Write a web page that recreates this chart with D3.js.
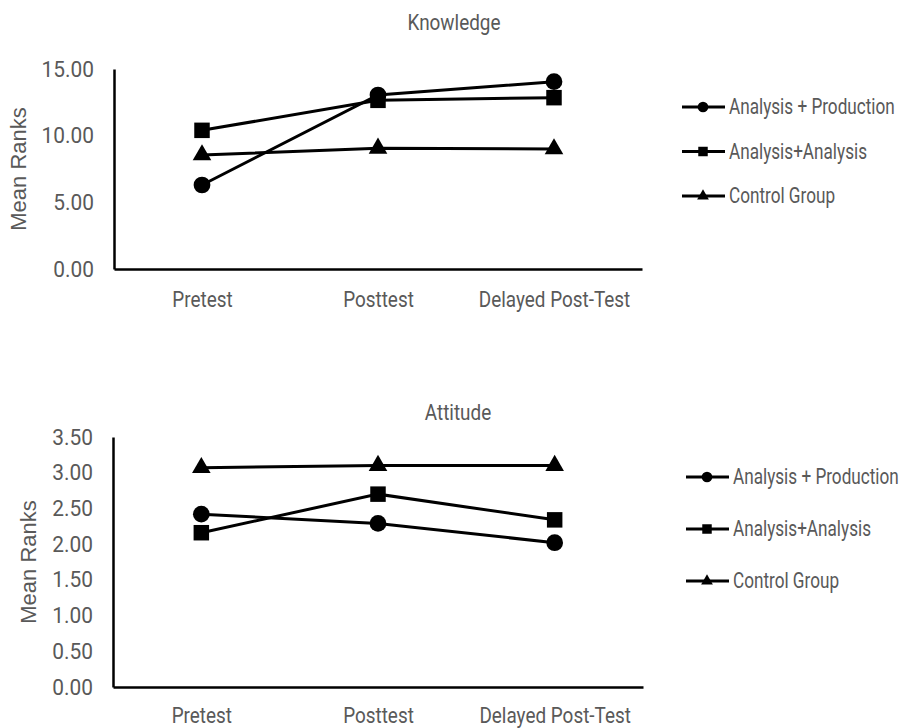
<!DOCTYPE html>
<html><head><meta charset="utf-8">
<script src="https://cdn.jsdelivr.net/npm/d3@7"></script>
<style>body{margin:0;background:#fff;} svg{display:block;}</style>
</head><body>
<svg id="c" width="899" height="728"></svg>
<script>
const categories = ["Pretest", "Posttest", "Delayed Post-Test"];
const seriesNames = ["Analysis + Production", "Analysis+Analysis", "Control Group"];
const symbols = ["circle", "square", "triangle"];
const knowledgeAP = [6.30, 13.05, 14.05];
const knowledgeAA = [10.40, 12.65, 12.85];
const knowledgeCG = [8.55, 9.05, 9.00];
const knowledgeTicks = [0, 5, 10, 15];
const attitudeAP = [2.42, 2.29, 2.02];
const attitudeAA = [2.16, 2.70, 2.34];
const attitudeCG = [3.07, 3.10, 3.10];
const attitudeTicks = [0, 0.5, 1, 1.5, 2, 2.5, 3, 3.5];

const svg = d3.select("#c");
const textColor = "#595959";
const FONT = "Roboto, 'Noto Sans', sans-serif";
// horizontally condense a text about its anchor point using a transform
function condense(sel, k) {
  sel.each(function(){
    const t = d3.select(this);
    const x = +t.attr("x") || 0, y = +t.attr("y") || 0;
    const prev = t.attr("transform") || "";
    t.attr("transform", `${prev} translate(${x},${y}) scale(${k},1) translate(${-x},${-y})`);
  });
}

const symGen = {
  circle: d3.symbol().type(d3.symbolCircle),
  square: d3.symbol().type(d3.symbolSquare),
  triangle: d3.symbol().type(d3.symbolTriangle)
};

function drawChart(cfg) {
  const g = svg.append("g");
  const x = d3.scalePoint().domain(categories).range([cfg.left, cfg.right]).padding(0.5);
  const y = d3.scaleLinear().domain([0, cfg.max]).range([cfg.bottom, cfg.top]);

  // title
  condense(g.append("text").attr("x", cfg.titleX).attr("y", cfg.titleY)
    .attr("text-anchor", "middle").attr("font-family", FONT).attr("font-size", 22)
    .attr("fill", textColor).text(cfg.title), 0.86);

  // y-axis label
  g.append("text").attr("transform", `translate(${cfg.ylabX},${(cfg.top + cfg.bottom) / 2}) rotate(-90)`)
    .attr("text-anchor", "middle").attr("dominant-baseline", "central")
    .attr("font-family", "'Liberation Sans', Arial, sans-serif").attr("font-size", 22)
    .attr("fill", textColor).text("Mean Ranks");

  // y axis
  const yAxis = d3.axisLeft(y).tickValues(cfg.ticks).tickFormat(d3.format(".2f")).tickSize(0).tickPadding(20);
  const ya = g.append("g").attr("transform", `translate(${cfg.left},0)`).call(yAxis);
  ya.select(".domain").attr("stroke", "#000").attr("stroke-width", 2.5);
  ya.selectAll("text").attr("font-family", FONT).attr("font-size", 22).attr("fill", textColor);
  condense(ya.selectAll("text"), 0.95);

  // x axis
  const xAxis = d3.axisBottom(x).tickSize(0).tickPadding(cfg.xPad);
  const xa = g.append("g").attr("transform", `translate(0,${cfg.bottom})`).call(xAxis);
  xa.select(".domain").attr("stroke", "#000").attr("stroke-width", 2.5);
  xa.selectAll("text").attr("font-family", FONT).attr("font-size", 22).attr("fill", textColor);
  condense(xa.selectAll("text"), 0.86);

  const line = d3.line().x((d, i) => x(categories[i])).y(d => y(d));
  cfg.series.forEach((vals, si) => {
    g.append("path").datum(vals).attr("d", line).attr("fill", "none")
      .attr("stroke", "#000").attr("stroke-width", 3);
    g.selectAll(null).data(vals).enter().append("path")
      .attr("transform", (d, i) => `translate(${x(categories[i])},${y(d)})`)
      .attr("d", symGen[symbols[si]].size(symbols[si] === "triangle" ? 150 : symbols[si] === "square" ? 240 : 220)())
      .attr("fill", "#000");
  });

  // legend
  seriesNames.forEach((name, si) => {
    const ly = cfg.legY + si * cfg.legStep;
    const lg = g.append("g").attr("transform", `translate(${cfg.legX},${ly})`);
    lg.append("line").attr("x1", 0).attr("x2", 43).attr("y1", 0).attr("y2", 0)
      .attr("stroke", "#000").attr("stroke-width", 3);
    lg.append("path").attr("transform", "translate(21,0)")
      .attr("d", symGen[symbols[si]].size(symbols[si] === "triangle" ? 60 : 90)()).attr("fill", "#000");
    condense(lg.append("text").attr("x", 47).attr("y", 0).attr("dominant-baseline", "central")
      .attr("font-family", FONT).attr("font-size", 22).attr("fill", textColor).text(name), 0.78);
  });
}

drawChart({
  title: "Knowledge", titleX: 454, titleY: 30,
  left: 114, right: 642, top: 69, bottom: 269, max: 15, ticks: knowledgeTicks,
  ylabX: 18, xPad: 22,
  series: [knowledgeAP, knowledgeAA, knowledgeCG],
  legX: 682, legY: 107, legStep: 44.5
});
drawChart({
  title: "Attitude", titleX: 458, titleY: 420,
  left: 113, right: 643, top: 437, bottom: 687, max: 3.5, ticks: attitudeTicks,
  ylabX: 28, xPad: 20,
  series: [attitudeAP, attitudeAA, attitudeCG],
  legX: 686, legY: 477, legStep: 52
});
</script>
</body></html>
